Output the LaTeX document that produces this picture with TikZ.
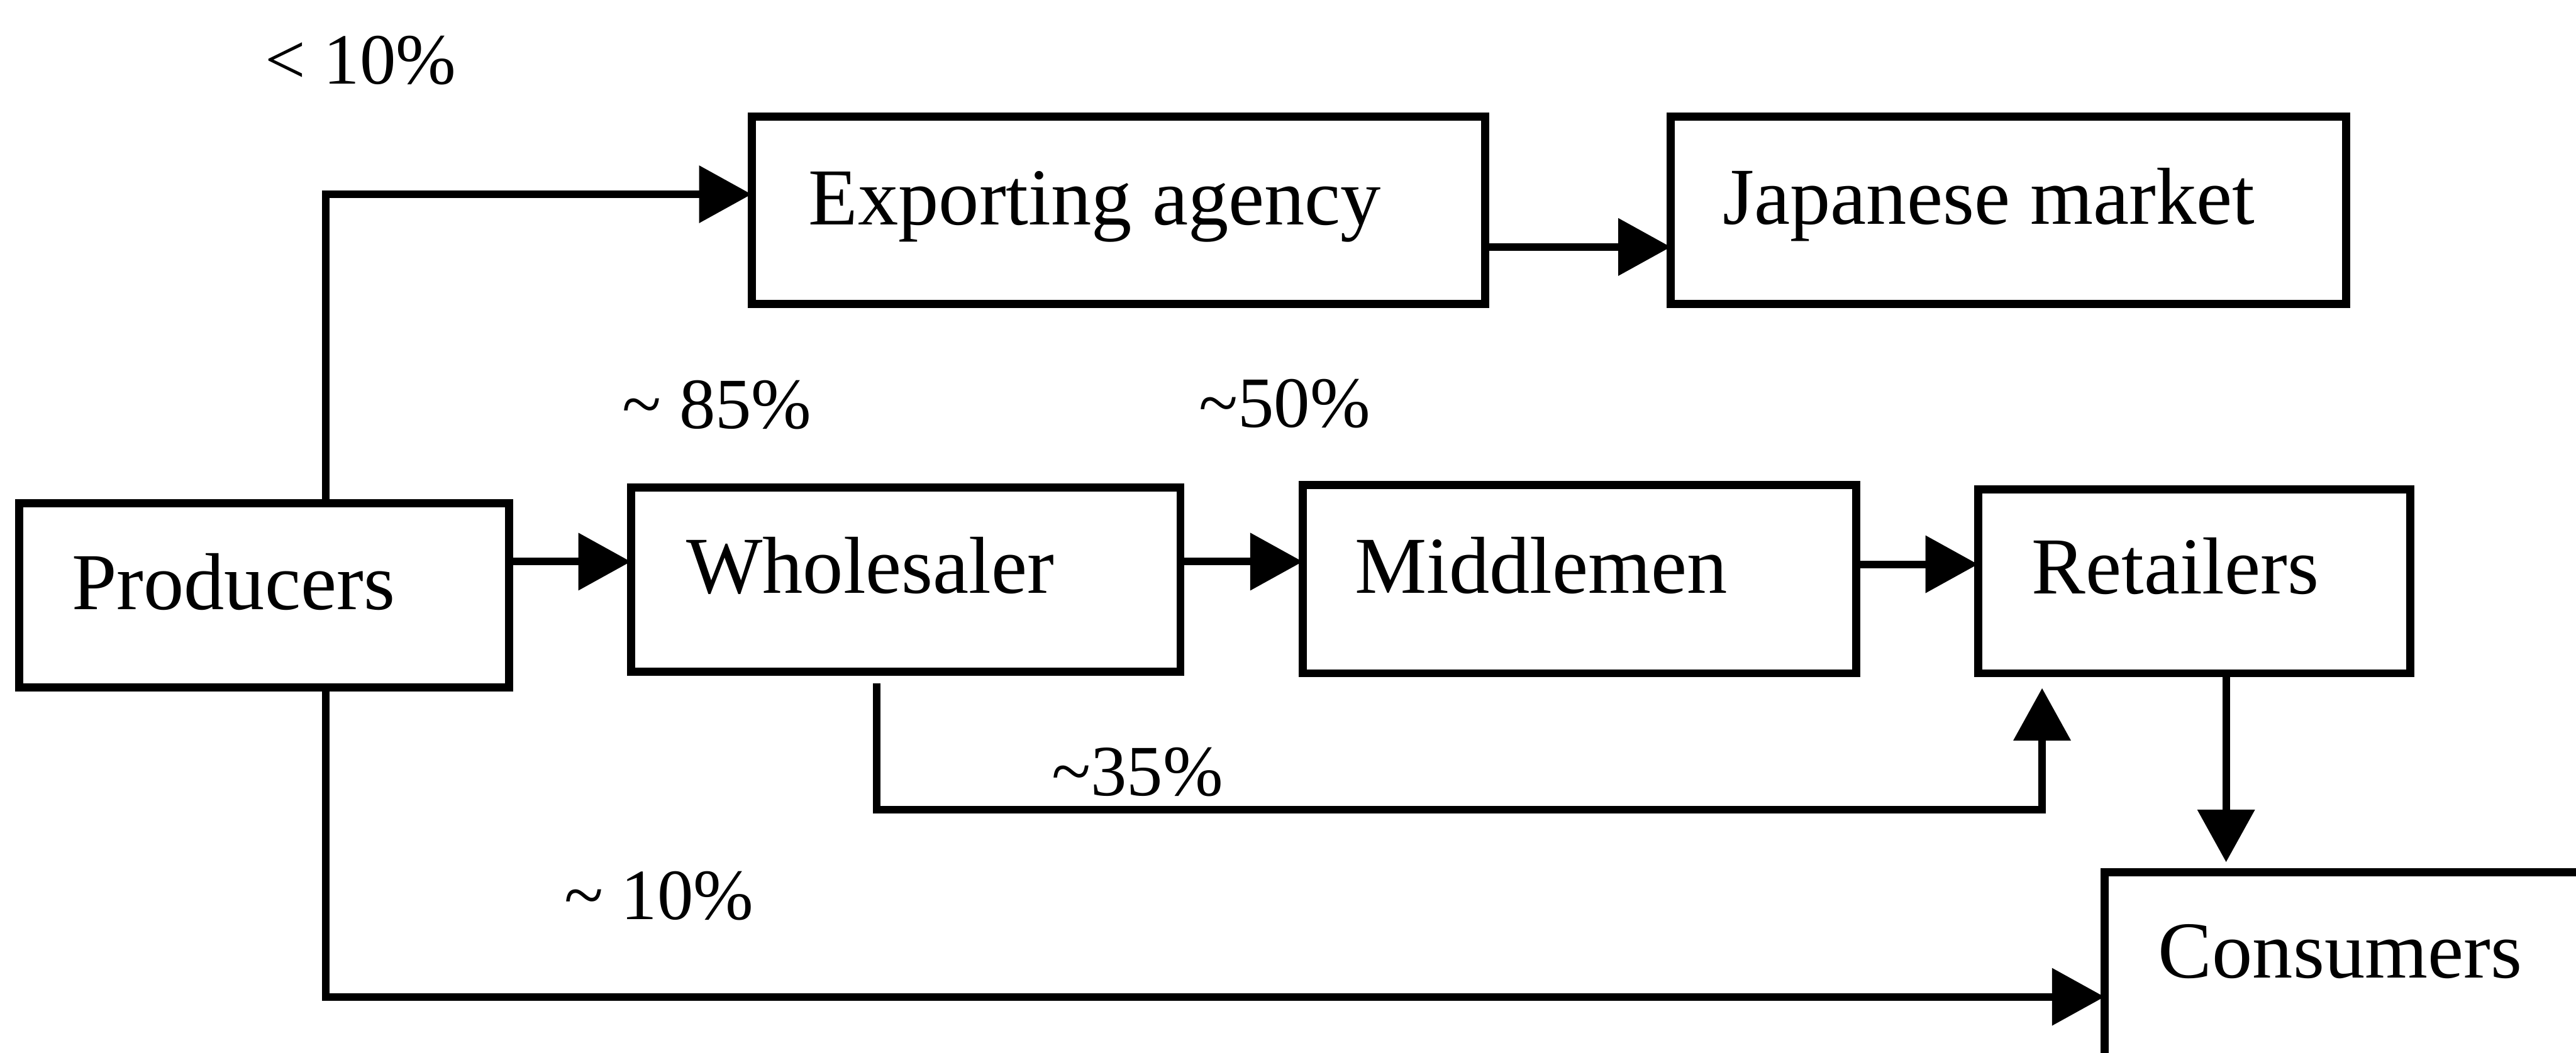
\documentclass[tikz,border=0pt]{standalone}
\usepackage{fontspec}
\setmainfont{Liberation Serif}
\usetikzlibrary{arrows.meta,calc}
\begin{document}
\begin{tikzpicture}[
  box/.style={draw, line width=1.4pt, inner sep=0pt, outer sep=0pt, rectangle},
  lbl/.style={inner sep=0pt, anchor=base west, font=\fontsize{14}{16}\selectfont},
  pct/.style={inner sep=0pt, anchor=base west, font=\fontsize{12.5}{15}\selectfont},
  arr/.style={line width=1.3pt, -{Triangle[length=0.32cm, width=0.34cm]}}
]
\useasboundingbox (0,0) rectangle (15.68,-6.41);
\clip (0,0) rectangle (15.68,-6.41);

% boxes
\node[box, minimum width=4.465cm, minimum height=1.14cm] (exp) at (6.8075,-1.28) {};
\node[box, minimum width=4.11cm, minimum height=1.14cm] (jap) at (12.225,-1.28) {};
\node[box, minimum width=2.984cm, minimum height=1.121cm] (prod) at (1.608,-3.6255) {};
\node[box, minimum width=3.345cm, minimum height=1.12cm] (whole) at (5.5125,-3.53) {};
\node[box, minimum width=3.37cm, minimum height=1.145cm] (mid) at (9.615,-3.5275) {};
\node[box, minimum width=2.63cm, minimum height=1.12cm] (ret) at (13.355,-3.54) {};
\node[box, minimum width=3.39cm, minimum height=1.69cm] (cons) at (14.505,-6.155) {};

% box texts
\node[lbl] (texp) at (4.915,-1.37) {Exporting agency};
\node[lbl] (tjap) at (10.48,-1.365) {Japanese market};
\node[lbl] (tprod) at (0.43,-3.71) {Producers};
\node[lbl] (twhole) at (4.17,-3.61) {Wholesaler};
\node[lbl] (tmid) at (8.24,-3.61) {Middlemen};
\node[lbl] (tret) at (12.36,-3.616) {Retailers};
\node[lbl] (tcons) at (13.13,-5.956) {Consumers};

% percentage labels
\node[pct] (p10a) at (1.606,-0.51) {\textless{} 10\%};
\node[pct] (p85) at (3.78,-2.608) {\textasciitilde{} 85\%};
\node[pct] (p50) at (7.29,-2.60) {\textasciitilde50\%};
\node[pct] (p35) at (6.395,-4.845) {\textasciitilde35\%};
\node[pct] (p10b) at (3.427,-5.60) {\textasciitilde{} 10\%};

% connectors
\draw[arr] ([xshift=0.376cm]prod.north) |- ([yshift=0.097cm]exp.west);
\draw[arr] ([yshift=-0.224cm]exp.east) -- ([yshift=-0.224cm]jap.west);
\draw[arr] ([yshift=0.2055cm]prod.east) coordinate (pe) -- (pe -| whole.west);
\draw[arr] ([yshift=0.11cm]whole.east) coordinate (we) -- (we -| mid.west);
\draw[arr] ([yshift=0.0915cm]mid.east) coordinate (me) -- (me -| ret.west);
\coordinate (low35) at (0,-4.93);
\coordinate (ws) at ([xshift=-0.1765cm]whole.south);
\coordinate (rs) at ([xshift=-0.925cm]ret.south);
\draw[arr, shorten <=0.07cm, shorten >=0.09cm] (ws) |- (rs |- low35) -- (rs);
\draw[arr, shorten >=0.06cm] ([xshift=0.195cm]ret.south) coordinate (rb) -- (rb |- cons.north);
\draw[arr] ([xshift=0.376cm]prod.south) |- ([yshift=0.085cm]cons.west);
\end{tikzpicture}
\end{document}
